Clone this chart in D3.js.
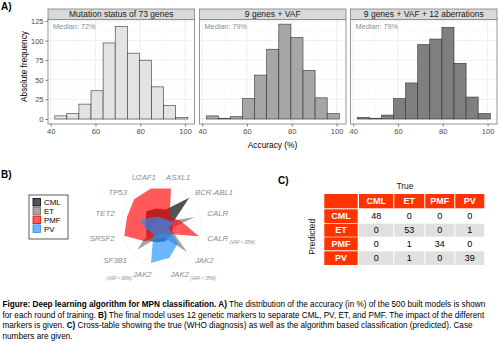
<!DOCTYPE html>
<html><head><meta charset="utf-8">
<script src="https://cdn.jsdelivr.net/npm/d3@7"></script>
<style>body{margin:0;background:#fff} svg{display:block;font-family:"Liberation Sans",Arial,sans-serif}</style>
</head><body><svg id="c" width="500" height="351"></svg>
<script>
// ---------- data ----------
const binEdges = [41.8,47.2,52.6,58.0,63.4,68.8,74.2,79.6,85.0,90.4,95.8,101.2];
const facetTitles = ["Mutation status of 73 genes","9 genes + VAF","9 genes + VAF + 12 aberrations"];
const medianLabels = ["Median: 72%","Median: 79%","Median: 79%"];
const countsMutation = [4,7,19,36,97,118,84,75,41,17,2];
const countsVAF = [4,1,3,26,56,89,121,104,62,27,7];
const countsAberr = [2,1,5,26,46,95,102,117,71,28,7];
const xTicks = [40,60,80,100];
const yTicks = [0,25,50,75,100,125];

const markers = ["ASXL1","BCR-ABL1","CALR","CALR","JAK2","JAK2","JAK2","SF3B1","SRSF2","TET2","TP53","U2AF1"];
const markerSubs = ["","","","(VAF > 35%)","","(VAF > 35%)","(VAF > 60%)","","","","",""];
const classes = ["CML","ET","PMF","PV"];
const impactCML = [0.42,1.00,0.30,0.30,0.35,0.40,0.42,0.50,0.38,0.40,0.52,0.45];
const impactET  = [0.20,0.15,0.88,0.25,0.92,0.30,0.30,0.85,0.25,0.20,0.20,0.20];
const impactPMF = [0.97,0.30,0.50,0.98,0.28,0.20,0.20,0.55,0.95,0.88,0.95,0.97];
const impactPV  = [0.20,0.22,0.33,0.20,0.60,0.82,0.96,0.27,0.37,0.55,0.32,0.24];

const tableCols = ["CML","ET","PMF","PV"];
const predCML = [48,0,0,0];
const predET  = [0,53,0,1];
const predPMF = [0,1,34,0];
const predPV  = [0,1,0,39];

const captionLines = [
  [["b","Figure: Deep learning algorithm for MPN classification. A)"],["n"," The distribution of the accuracy (in %) of the 500 built models is shown"]],
  [["n","for each round of training. "],["b","B)"],["n"," The final model uses 12 genetic markers to separate CML, PV, ET, and PMF. The impact of the different"]],
  [["n","markers is given. "],["b","C)"],["n"," Cross-table showing the true (WHO diagnosis) as well as the algorithm based classification (predicted). Case"]],
  [["n","numbers are given."]]
];

// ---------- drawing ----------
const svg = d3.select("#c");
const countsAll = [countsMutation, countsVAF, countsAberr];
const fills = ["#e3e3e3","#a6a6a6","#7f7f7f"];
const panelX = [48,199.5,350.5], panelW = 146.5, stripTop = 9, panelTop = 19.5, panelBot = 124;

svg.append("text").attr("x",1).attr("y",10).attr("font-size",10).attr("font-weight","bold").text("A)");

const x = d3.scaleLinear().domain([38.8,104.2]).range([0,panelW]);
const y = d3.scaleLinear().domain([-6.36,126.9]).range([panelBot-panelTop,0]);
const ph = panelBot-panelTop;

countsAll.forEach((counts,fi)=>{
  const g = svg.append("g").attr("transform",`translate(${panelX[fi]},${panelTop})`);
  g.append("rect").attr("width",panelW).attr("height",ph).attr("fill","#fff");
  [50,70,90].forEach(v=>g.append("line").attr("x1",x(v)).attr("x2",x(v)).attr("y1",0).attr("y2",ph).attr("stroke","#f4f4f4").attr("stroke-width",0.5));
  [12.5,37.5,62.5,87.5,112.5].forEach(v=>g.append("line").attr("y1",y(v)).attr("y2",y(v)).attr("x1",0).attr("x2",panelW).attr("stroke","#f4f4f4").attr("stroke-width",0.5));
  xTicks.forEach(v=>g.append("line").attr("x1",x(v)).attr("x2",x(v)).attr("y1",0).attr("y2",ph).attr("stroke","#ebebeb").attr("stroke-width",0.8));
  yTicks.forEach(v=>g.append("line").attr("y1",y(v)).attr("y2",y(v)).attr("x1",0).attr("x2",panelW).attr("stroke","#ebebeb").attr("stroke-width",0.8));
  g.selectAll("rect.bar").data(counts).join("rect").attr("class","bar")
    .attr("x",(d,i)=>x(binEdges[i])).attr("width",(d,i)=>x(binEdges[i+1])-x(binEdges[i]))
    .attr("y",d=>y(d)).attr("height",d=>y(0)-y(d))
    .attr("fill",fills[fi]).attr("stroke","#333").attr("stroke-width",0.6);
  g.append("rect").attr("width",panelW).attr("height",ph).attr("fill","none").attr("stroke","#8a8a8a").attr("stroke-width",0.9);
  g.append("text").attr("x",5).attr("y",9.8).attr("font-size",7.3).attr("fill","#8c8c8c").text(medianLabels[fi]);
  const s = svg.append("g").attr("transform",`translate(${panelX[fi]},${stripTop})`);
  s.append("rect").attr("width",panelW).attr("height",panelTop-stripTop).attr("fill","#d9d9d9").attr("stroke","#8a8a8a").attr("stroke-width",0.9);
  s.append("text").attr("x",panelW/2).attr("y",(panelTop-stripTop)/2+3).attr("text-anchor","middle").attr("font-size",8.5).attr("fill","#1a1a1a").text(facetTitles[fi]);
  const ax = svg.append("g").attr("transform",`translate(${panelX[fi]},${panelBot})`)
    .call(d3.axisBottom(x).tickValues(xTicks).tickSize(2.5).tickPadding(2));
  ax.select(".domain").remove();
  ax.selectAll("line").attr("stroke","#333").attr("stroke-width",0.6);
  ax.selectAll("text").attr("font-size",7.5).attr("fill","#4d4d4d").attr("font-family","Liberation Sans, Arial, sans-serif");
});
const ay = svg.append("g").attr("transform",`translate(${panelX[0]},${panelTop})`)
  .call(d3.axisLeft(y).tickValues(yTicks).tickSize(2.5).tickPadding(2));
ay.select(".domain").remove();
ay.selectAll("line").attr("stroke","#333").attr("stroke-width",0.6);
ay.selectAll("text").attr("font-size",7.5).attr("fill","#4d4d4d").attr("font-family","Liberation Sans, Arial, sans-serif");
svg.append("text").attr("transform","translate(27,66.5) rotate(-90)").attr("text-anchor","middle").attr("font-size",8.3).text("Absolute frequency");
svg.append("text").attr("x",272.5).attr("y",148).attr("text-anchor","middle").attr("font-size",8.3).text("Accuracy (%)");

// ---------- B radar ----------
svg.append("text").attr("x",1).attr("y",178).attr("font-size",10).attr("font-weight","bold").text("B)");
const cx = 161, cy = 226, R = 40;
const ang = d3.scaleLinear().domain([0,12]).range([Math.PI/12, Math.PI/12 + 2*Math.PI]);
const rad = d3.scaleLinear().domain([0,1]).range([0,R]);
const rg = svg.append("g").attr("transform",`translate(${cx},${cy})`);
[1/3,2/3,1].forEach(f=>rg.append("circle").attr("r",rad(f)).attr("fill","none").attr("stroke","#ececec").attr("stroke-width",0.6));
const line = d3.lineRadial().angle((d,i)=>ang(i)).radius(d=>rad(d)).curve(d3.curveLinearClosed);
const radarData = [impactCML, impactET, impactPMF, impactPV];
const rFill = ["#1a1a1a","#808080","#ff0000","#1e90ff"];
const rOp = [0.75,0.7,0.65,0.65];
radarData.forEach((d,i)=>rg.append("path").attr("d",line(d)).attr("fill",rFill[i]).attr("fill-opacity",rOp[i]).attr("stroke","none"));
markers.forEach((m,i)=>{
  const a = ang(i), s = Math.sin(a), c = Math.cos(a);
  let r = 48, anchor = s>0 ? "start" : "end", kx = 1;
  if (Math.abs(s)<0.3 && c>0){ anchor="middle"; r=51; kx=1.3; }
  if (Math.abs(s)<0.3 && c<0){ r=50; kx=0.72; }
  const tx = cx + r*s*kx, ty = cy - r*c + 2.8;
  const t = svg.append("text").attr("x",tx).attr("y",ty).attr("text-anchor",anchor)
    .attr("font-size",7.8).attr("font-style","italic").attr("fill","#8c8c8c");
  if (markerSubs[i] && anchor==="end"){
    t.append("tspan").attr("font-size",4.5).attr("dy",3).text(markerSubs[i]+" ");
    t.append("tspan").attr("dy",-3).text(m);
  } else {
    t.append("tspan").text(m);
    if (markerSubs[i]) t.append("tspan").attr("font-size",4.5).attr("dy",2.5).text(" "+markerSubs[i]);
  }
});
const lg = svg.append("g").attr("transform","translate(29,195)");
lg.append("rect").attr("width",39).attr("height",44).attr("fill","#fff").attr("stroke","#333").attr("stroke-width",0.8);
const lStroke = ["#000","#6e6e6e","#e60000","#2b8be6"];
classes.forEach((k,i)=>{
  lg.append("rect").attr("x",4).attr("y",3.5+i*8.8).attr("width",7.5).attr("height",7.5)
    .attr("fill",rFill[i]).attr("fill-opacity",rOp[i]).attr("stroke",lStroke[i]).attr("stroke-width",0.8);
  lg.append("text").attr("x",15).attr("y",10.3+i*8.8).attr("font-size",7.8).text(k);
});

// ---------- C table ----------
svg.append("text").attr("x",278).attr("y",184).attr("font-size",10).attr("font-weight","bold").text("C)");
svg.append("text").attr("x",405).attr("y",189).attr("text-anchor","middle").attr("font-size",8.5).attr("fill","#1a1a1a").text("True");
svg.append("text").attr("transform","translate(315,236.7) rotate(-90)").attr("text-anchor","middle").attr("font-size",8.5).attr("fill","#1a1a1a").text("Predicted");
const colX = [324.3,359,394.3,425.3,455.3], colW = [33.4,34.3,30,29,29];
const rowY = [194,209.3,223.7,237.3,251.3], rowH = [14.3,13.7,13,13,13.7];
const red = "#ff3300";
const tb = svg.append("g");
colX.forEach((cxp,j)=>{
  tb.append("rect").attr("x",cxp).attr("y",rowY[0]).attr("width",colW[j]).attr("height",rowH[0]).attr("fill",red);
  if (j>0) tb.append("text").attr("x",cxp+colW[j]/2).attr("y",rowY[0]+rowH[0]/2+3.2).attr("text-anchor","middle")
    .attr("font-size",9).attr("font-weight","bold").attr("fill","#fff").text(tableCols[j-1]);
});
const tableRows = [predCML, predET, predPMF, predPV];
tableRows.forEach((row,i)=>{
  const ry = rowY[i+1], rh = rowH[i+1];
  tb.append("rect").attr("x",colX[0]).attr("y",ry).attr("width",colW[0]).attr("height",rh).attr("fill",red);
  tb.append("text").attr("x",colX[0]+colW[0]/2).attr("y",ry+rh/2+3.2).attr("text-anchor","middle")
    .attr("font-size",9).attr("font-weight","bold").attr("fill","#fff").text(tableCols[i]);
  row.forEach((v,j)=>{
    tb.append("rect").attr("x",colX[j+1]).attr("y",ry).attr("width",colW[j+1]).attr("height",rh).attr("fill", i%2===1 ? "#e0e0e0" : "#fff");
    tb.append("text").attr("x",colX[j+1]+colW[j+1]/2).attr("y",ry+rh/2+3.2).attr("text-anchor","middle")
      .attr("font-size",9).attr("fill","#000").text(v);
  });
});

// ---------- caption ----------
captionLines.forEach((segs,i)=>{
  const t = svg.append("text").attr("x",2.5).attr("y",307+i*10.6).attr("font-size",8.2).attr("fill","#000");
  segs.forEach(([w,s])=>t.append("tspan").attr("font-weight", w==="b"?"bold":"normal").text(s));
});
</script></body></html>
